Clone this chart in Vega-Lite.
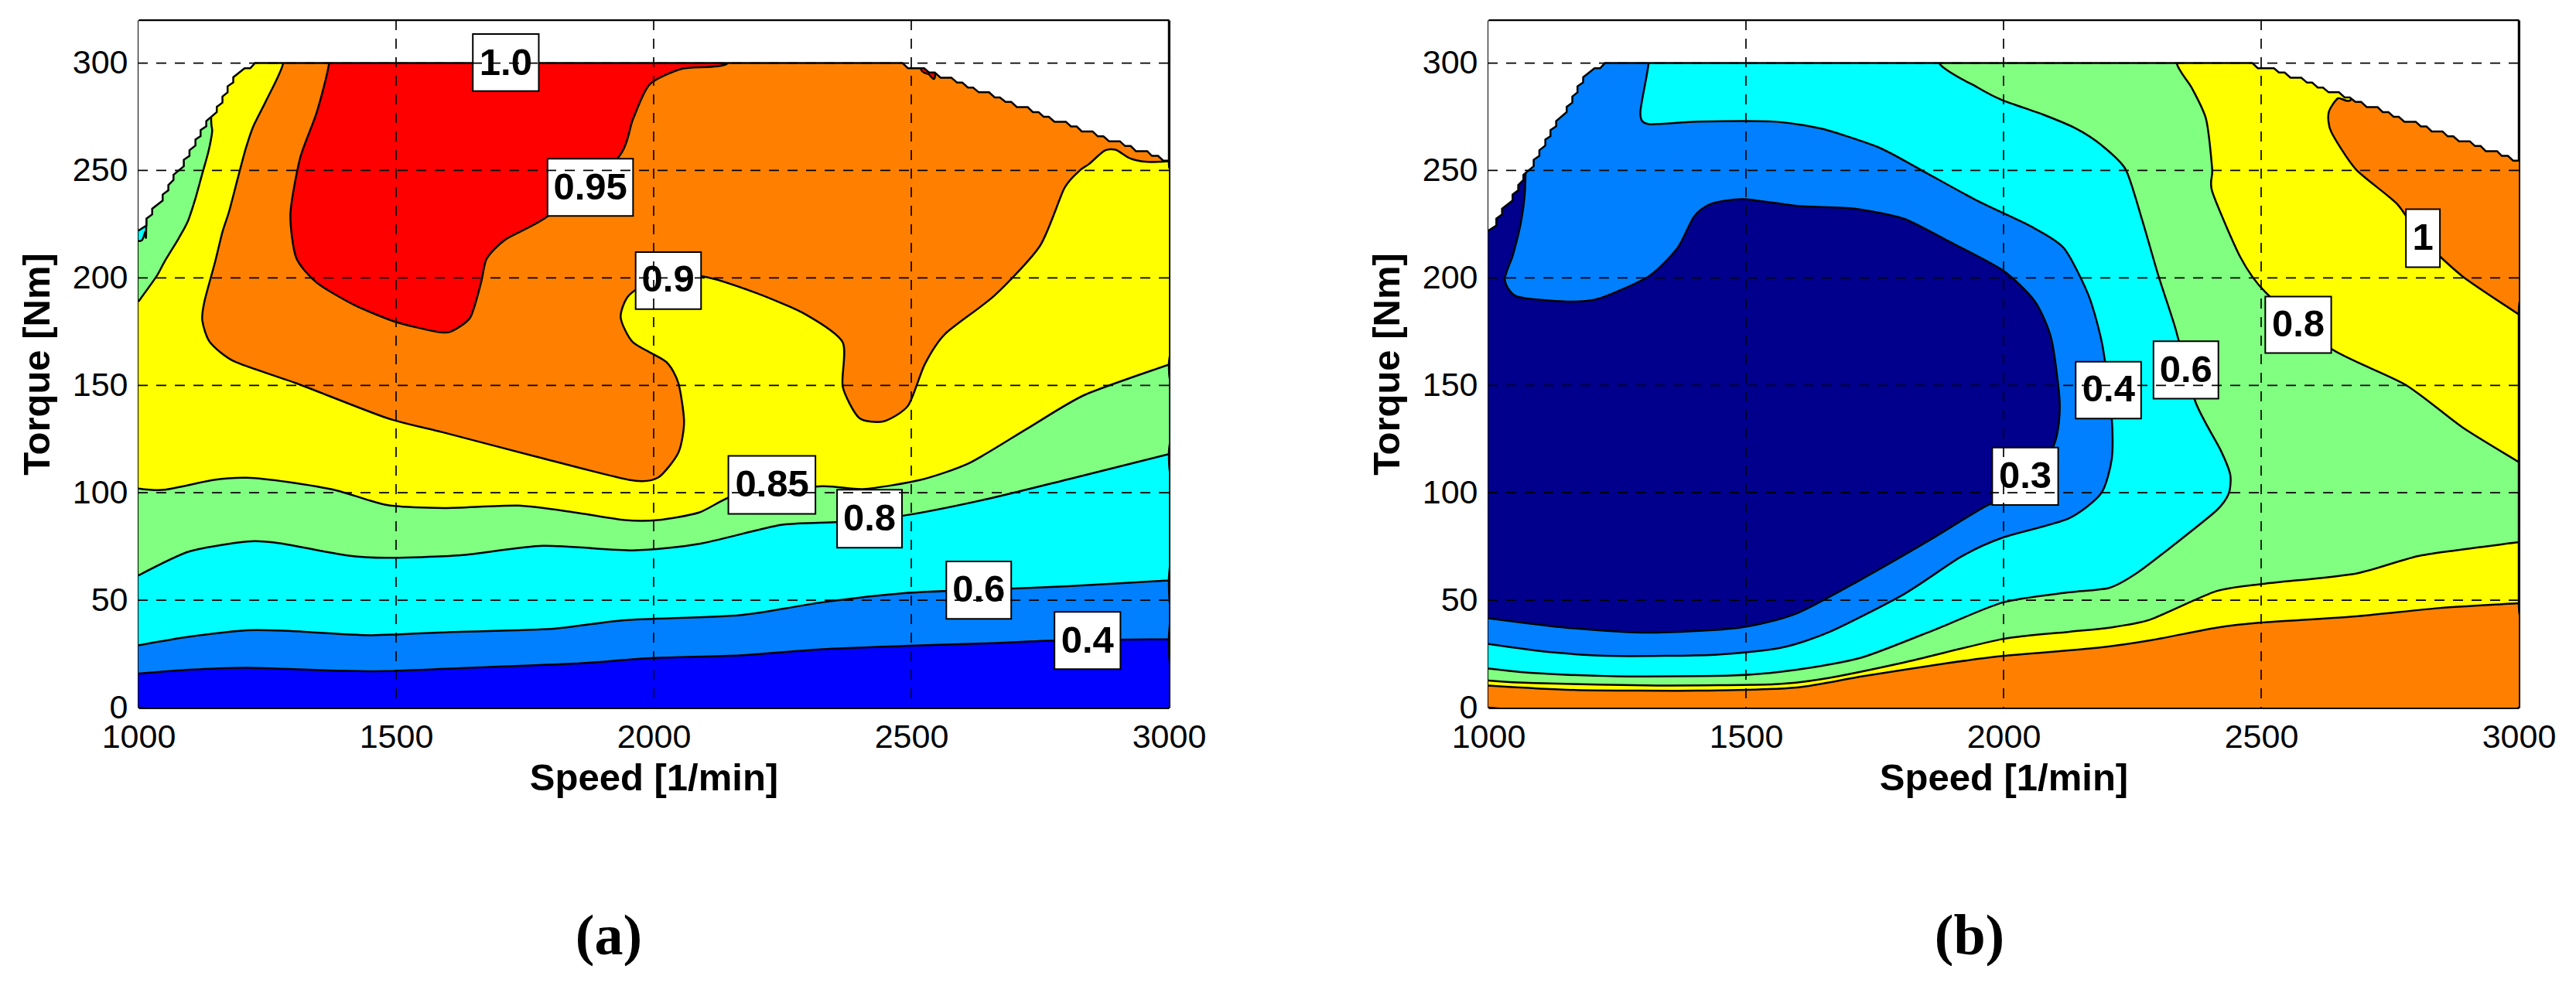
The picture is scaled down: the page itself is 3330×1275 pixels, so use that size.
{
  "$schema": "https://vega.github.io/schema/vega-lite/v6.json",
  "padding": {"left": 24, "top": 25, "right": 0, "bottom": 0},
  "spacing": 210,
  "resolve": {"scale": {"fill": "independent"}},
  "config": {
    "view": {"stroke": null},
    "font": "Liberation Sans",
    "axis": {"labelFont": "Liberation Sans", "labelFontSize": 43, "labelColor": "black", "labelFlush": false, "labelBound": false, "labelOverlap": false, "titleFont": "Liberation Sans", "titleFontSize": 49, "titleFontWeight": "bold", "titleColor": "black", "ticks": false, "grid": false, "domainColor": "black", "domainWidth": 3, "labelPadding": 14, "zindex": 1}
  },
  "datasets": {
    "regions": [
      {"panel":"a","region":"a0","band":"<0.4","speed":1000,"torque":0},{"panel":"a","region":"a0","band":"<0.4","speed":3000,"torque":0},{"panel":"a","region":"a0","band":"<0.4","speed":3000,"torque":320},{"panel":"a","region":"a0","band":"<0.4","speed":1000,"torque":320},

      {"panel":"a","region":"a1","band":"0.4-0.6","speed":1000,"torque":15.8},{"panel":"a","region":"a1","band":"0.4-0.6","speed":1099,"torque":17.6},{"panel":"a","region":"a1","band":"0.4-0.6","speed":1211,"torque":18.5},{"panel":"a","region":"a1","band":"0.4-0.6","speed":1370,"torque":17.3},{"panel":"a","region":"a1","band":"0.4-0.6","speed":1482,"torque":17},{"panel":"a","region":"a1","band":"0.4-0.6","speed":1689,"torque":19},{"panel":"a","region":"a1","band":"0.4-0.6","speed":1848,"torque":20.5},{"panel":"a","region":"a1","band":"0.4-0.6","speed":2000,"torque":23.1},{"panel":"a","region":"a1","band":"0.4-0.6","speed":2167,"torque":24.3},{"panel":"a","region":"a1","band":"0.4-0.6","speed":2327,"torque":27.2},{"panel":"a","region":"a1","band":"0.4-0.6","speed":2486,"torque":28.7},{"panel":"a","region":"a1","band":"0.4-0.6","speed":2646,"torque":29.9},{"panel":"a","region":"a1","band":"0.4-0.6","speed":2789,"torque":31.3},{"panel":"a","region":"a1","band":"0.4-0.6","speed":3000,"torque":31.9},{"panel":"a","region":"a1","band":"0.4-0.6","speed":3000,"torque":32.2},{"panel":"a","region":"a1","band":"0.4-0.6","speed":3000,"torque":320},{"panel":"a","region":"a1","band":"0.4-0.6","speed":1000,"torque":320},

      {"panel":"a","region":"a2","band":"0.6-0.8","speed":1000,"torque":29},{"panel":"a","region":"a2","band":"0.6-0.8","speed":1099,"torque":33},{"panel":"a","region":"a2","band":"0.6-0.8","speed":1211,"torque":36},{"panel":"a","region":"a2","band":"0.6-0.8","speed":1290,"torque":35.7},{"panel":"a","region":"a2","band":"0.6-0.8","speed":1450,"torque":33.7},{"panel":"a","region":"a2","band":"0.6-0.8","speed":1609,"torque":35.2},{"panel":"a","region":"a2","band":"0.6-0.8","speed":1801,"torque":36.6},{"panel":"a","region":"a2","band":"0.6-0.8","speed":1944,"torque":40.7},{"panel":"a","region":"a2","band":"0.6-0.8","speed":2167,"torque":43},{"panel":"a","region":"a2","band":"0.6-0.8","speed":2327,"torque":49},{"panel":"a","region":"a2","band":"0.6-0.8","speed":2486,"torque":53.3},{"panel":"a","region":"a2","band":"0.6-0.8","speed":2646,"torque":55},{"panel":"a","region":"a2","band":"0.6-0.8","speed":2805,"torque":56.5},{"panel":"a","region":"a2","band":"0.6-0.8","speed":3000,"torque":59.2},{"panel":"a","region":"a2","band":"0.6-0.8","speed":3000,"torque":59.5},{"panel":"a","region":"a2","band":"0.6-0.8","speed":3000,"torque":320},{"panel":"a","region":"a2","band":"0.6-0.8","speed":1000,"torque":320},

      {"panel":"a","region":"a3","band":"0.8-0.85","speed":1000,"torque":61.5},{"panel":"a","region":"a3","band":"0.8-0.85","speed":1099,"torque":72.7},{"panel":"a","region":"a3","band":"0.8-0.85","speed":1211,"torque":77.3},{"panel":"a","region":"a3","band":"0.8-0.85","speed":1274,"torque":76.5},{"panel":"a","region":"a3","band":"0.8-0.85","speed":1402,"torque":70.9},{"panel":"a","region":"a3","band":"0.8-0.85","speed":1482,"torque":69.7},{"panel":"a","region":"a3","band":"0.8-0.85","speed":1625,"torque":70.9},{"panel":"a","region":"a3","band":"0.8-0.85","speed":1785,"torque":75.3},{"panel":"a","region":"a3","band":"0.8-0.85","speed":1960,"torque":73.2},{"panel":"a","region":"a3","band":"0.8-0.85","speed":2088,"torque":76.2},{"panel":"a","region":"a3","band":"0.8-0.85","speed":2247,"torque":85},{"panel":"a","region":"a3","band":"0.8-0.85","speed":2359,"torque":86.4},{"panel":"a","region":"a3","band":"0.8-0.85","speed":2486,"torque":89.4},{"panel":"a","region":"a3","band":"0.8-0.85","speed":2646,"torque":97},{"panel":"a","region":"a3","band":"0.8-0.85","speed":2805,"torque":106.3},{"panel":"a","region":"a3","band":"0.8-0.85","speed":3000,"torque":118},{"panel":"a","region":"a3","band":"0.8-0.85","speed":3000,"torque":118.3},{"panel":"a","region":"a3","band":"0.8-0.85","speed":3000,"torque":320},{"panel":"a","region":"a3","band":"0.8-0.85","speed":1000,"torque":320},

      {"panel":"a","region":"a4","band":"0.85-0.9","speed":1000,"torque":102},{"panel":"a","region":"a4","band":"0.85-0.9","speed":1051,"torque":101.4},{"panel":"a","region":"a4","band":"0.85-0.9","speed":1147,"torque":106},{"panel":"a","region":"a4","band":"0.85-0.9","speed":1211,"torque":107},{"panel":"a","region":"a4","band":"0.85-0.9","speed":1290,"torque":105},{"panel":"a","region":"a4","band":"0.85-0.9","speed":1386,"torque":101},{"panel":"a","region":"a4","band":"0.85-0.9","speed":1482,"torque":94.3},{"panel":"a","region":"a4","band":"0.85-0.9","speed":1593,"torque":92.9},{"panel":"a","region":"a4","band":"0.85-0.9","speed":1737,"torque":94},{"panel":"a","region":"a4","band":"0.85-0.9","speed":1848,"torque":90.8},{"panel":"a","region":"a4","band":"0.85-0.9","speed":1944,"torque":87.3},{"panel":"a","region":"a4","band":"0.85-0.9","speed":2008,"torque":87.3},{"panel":"a","region":"a4","band":"0.85-0.9","speed":2088,"torque":90.8},{"panel":"a","region":"a4","band":"0.85-0.9","speed":2167,"torque":99.6},{"panel":"a","region":"a4","band":"0.85-0.9","speed":2327,"torque":103},{"panel":"a","region":"a4","band":"0.85-0.9","speed":2407,"torque":101.7},{"panel":"a","region":"a4","band":"0.85-0.9","speed":2518,"torque":106},{"panel":"a","region":"a4","band":"0.85-0.9","speed":2614,"torque":114},{"panel":"a","region":"a4","band":"0.85-0.9","speed":2726,"torque":130},{"panel":"a","region":"a4","band":"0.85-0.9","speed":2837,"torque":145.6},{"panel":"a","region":"a4","band":"0.85-0.9","speed":3000,"torque":159.7},{"panel":"a","region":"a4","band":"0.85-0.9","speed":3000,"torque":160},{"panel":"a","region":"a4","band":"0.85-0.9","speed":3000,"torque":320},{"panel":"a","region":"a4","band":"0.85-0.9","speed":1000,"torque":320},

      {"panel":"a","region":"a5","band":"0.9-0.95","speed":1281,"torque":320},{"panel":"a","region":"a5","band":"0.9-0.95","speed":1281,"torque":300},{"panel":"a","region":"a5","band":"0.9-0.95","speed":1248,"torque":282.6},{"panel":"a","region":"a5","band":"0.9-0.95","speed":1223,"torque":270.6},{"panel":"a","region":"a5","band":"0.9-0.95","speed":1208,"torque":260},{"panel":"a","region":"a5","band":"0.9-0.95","speed":1193,"torque":246.6},{"panel":"a","region":"a5","band":"0.9-0.95","speed":1176,"torque":231},{"panel":"a","region":"a5","band":"0.9-0.95","speed":1163,"torque":221.4},{"panel":"a","region":"a5","band":"0.9-0.95","speed":1149,"torque":207.7},{"panel":"a","region":"a5","band":"0.9-0.95","speed":1128,"torque":189},{"panel":"a","region":"a5","band":"0.9-0.95","speed":1124,"torque":180},{"panel":"a","region":"a5","band":"0.9-0.95","speed":1139,"torque":170},{"panel":"a","region":"a5","band":"0.9-0.95","speed":1187,"torque":161},{"panel":"a","region":"a5","band":"0.9-0.95","speed":1306,"torque":151},{"panel":"a","region":"a5","band":"0.9-0.95","speed":1482,"torque":134.8},{"panel":"a","region":"a5","band":"0.9-0.95","speed":1593,"torque":128},{"panel":"a","region":"a5","band":"0.9-0.95","speed":1769,"torque":117},{"panel":"a","region":"a5","band":"0.9-0.95","speed":1952,"torque":106},{"panel":"a","region":"a5","band":"0.9-0.95","speed":2008,"torque":107},{"panel":"a","region":"a5","band":"0.9-0.95","speed":2048,"torque":118.7},{"panel":"a","region":"a5","band":"0.9-0.95","speed":2059,"torque":133},{"panel":"a","region":"a5","band":"0.9-0.95","speed":2048,"torque":151},{"panel":"a","region":"a5","band":"0.9-0.95","speed":2024,"torque":161},{"panel":"a","region":"a5","band":"0.9-0.95","speed":1960,"torque":170},{"panel":"a","region":"a5","band":"0.9-0.95","speed":1936,"torque":181.6},{"panel":"a","region":"a5","band":"0.9-0.95","speed":1952,"torque":191.9},{"panel":"a","region":"a5","band":"0.9-0.95","speed":2008,"torque":200},{"panel":"a","region":"a5","band":"0.9-0.95","speed":2096,"torque":200.7},{"panel":"a","region":"a5","band":"0.9-0.95","speed":2199,"torque":193},{"panel":"a","region":"a5","band":"0.9-0.95","speed":2295,"torque":183},{"panel":"a","region":"a5","band":"0.9-0.95","speed":2367,"torque":170},{"panel":"a","region":"a5","band":"0.9-0.95","speed":2367,"torque":149.4},{"panel":"a","region":"a5","band":"0.9-0.95","speed":2399,"torque":134.8},{"panel":"a","region":"a5","band":"0.9-0.95","speed":2447,"torque":133.3},{"panel":"a","region":"a5","band":"0.9-0.95","speed":2494,"torque":140.6},{"panel":"a","region":"a5","band":"0.9-0.95","speed":2526,"torque":159.7},{"panel":"a","region":"a5","band":"0.9-0.95","speed":2566,"torque":174},{"panel":"a","region":"a5","band":"0.9-0.95","speed":2662,"torque":191.9},{"panel":"a","region":"a5","band":"0.9-0.95","speed":2750,"torque":215},{"panel":"a","region":"a5","band":"0.9-0.95","speed":2797,"torque":241.7},{"panel":"a","region":"a5","band":"0.9-0.95","speed":2827,"torque":250},{"panel":"a","region":"a5","band":"0.9-0.95","speed":2845,"torque":253},{"panel":"a","region":"a5","band":"0.9-0.95","speed":2875,"torque":259.2},{"panel":"a","region":"a5","band":"0.9-0.95","speed":2897,"torque":259.6},{"panel":"a","region":"a5","band":"0.9-0.95","speed":2925,"torque":255.6},{"panel":"a","region":"a5","band":"0.9-0.95","speed":2958,"torque":254},{"panel":"a","region":"a5","band":"0.9-0.95","speed":3000,"torque":254.3},{"panel":"a","region":"a5","band":"0.9-0.95","speed":3000,"torque":254.6},{"panel":"a","region":"a5","band":"0.9-0.95","speed":3000,"torque":320},

      {"panel":"a","region":"a6","band":">0.95","speed":1370,"torque":320},{"panel":"a","region":"a6","band":">0.95","speed":1370,"torque":300},{"panel":"a","region":"a6","band":">0.95","speed":1346,"torque":277},{"panel":"a","region":"a6","band":">0.95","speed":1314,"torque":256},{"panel":"a","region":"a6","band":">0.95","speed":1295,"torque":230},{"panel":"a","region":"a6","band":">0.95","speed":1306,"torque":209.5},{"panel":"a","region":"a6","band":">0.95","speed":1346,"torque":197.8},{"panel":"a","region":"a6","band":">0.95","speed":1418,"torque":187.5},{"panel":"a","region":"a6","band":">0.95","speed":1498,"torque":179.6},{"panel":"a","region":"a6","band":">0.95","speed":1577,"torque":175},{"panel":"a","region":"a6","band":">0.95","speed":1606,"torque":175},{"panel":"a","region":"a6","band":">0.95","speed":1644,"torque":181.6},{"panel":"a","region":"a6","band":">0.95","speed":1665,"torque":197.8},{"panel":"a","region":"a6","band":">0.95","speed":1676,"torque":209},{"panel":"a","region":"a6","band":">0.95","speed":1713,"torque":218},{"panel":"a","region":"a6","band":">0.95","speed":1793,"torque":228.5},{"panel":"a","region":"a6","band":">0.95","speed":1931,"torque":256},{"panel":"a","region":"a6","band":">0.95","speed":1960,"torque":274},{"panel":"a","region":"a6","band":">0.95","speed":1992,"torque":290},{"panel":"a","region":"a6","band":">0.95","speed":2056,"torque":297.4},{"panel":"a","region":"a6","band":">0.95","speed":2144,"torque":300},{"panel":"a","region":"a6","band":">0.95","speed":2144,"torque":320},

      {"panel":"a","region":"a7","band":">0.95","speed":2518,"torque":320},{"panel":"a","region":"a7","band":">0.95","speed":2518,"torque":297.8},{"panel":"a","region":"a7","band":">0.95","speed":2534,"torque":294.8},{"panel":"a","region":"a7","band":">0.95","speed":2546,"torque":293.8},{"panel":"a","region":"a7","band":">0.95","speed":2546,"torque":320},

      {"panel":"a","region":"a8","band":"0.8-0.85","speed":1000,"torque":189},{"panel":"a","region":"a8","band":"0.8-0.85","speed":1035,"torque":200.7},{"panel":"a","region":"a8","band":"0.8-0.85","speed":1050.6,"torque":207.6},{"panel":"a","region":"a8","band":"0.8-0.85","speed":1078,"torque":218.4},{"panel":"a","region":"a8","band":"0.8-0.85","speed":1095.6,"torque":226.2},{"panel":"a","region":"a8","band":"0.8-0.85","speed":1110.6,"torque":237},{"panel":"a","region":"a8","band":"0.8-0.85","speed":1123,"torque":247.8},{"panel":"a","region":"a8","band":"0.8-0.85","speed":1135.6,"torque":258.6},{"panel":"a","region":"a8","band":"0.8-0.85","speed":1143,"torque":268.2},{"panel":"a","region":"a8","band":"0.8-0.85","speed":1141,"torque":274.8},{"panel":"a","region":"a8","band":"0.8-0.85","speed":1141,"torque":320},{"panel":"a","region":"a8","band":"0.8-0.85","speed":1000,"torque":320},

      {"panel":"a","region":"a9","band":"0.6-0.8","speed":1000,"torque":217.2},{"panel":"a","region":"a9","band":"0.6-0.8","speed":1007,"torque":217.6},{"panel":"a","region":"a9","band":"0.6-0.8","speed":1013,"torque":221.4},{"panel":"a","region":"a9","band":"0.6-0.8","speed":1015,"torque":224.4},{"panel":"a","region":"a9","band":"0.6-0.8","speed":1015,"torque":320},{"panel":"a","region":"a9","band":"0.6-0.8","speed":1000,"torque":320},

      {"panel":"b","region":"b0","band":">1","speed":1000,"torque":0},{"panel":"b","region":"b0","band":">1","speed":3000,"torque":0},{"panel":"b","region":"b0","band":">1","speed":3000,"torque":320},{"panel":"b","region":"b0","band":">1","speed":1000,"torque":320},

      {"panel":"b","region":"b1","band":"0.8-1","speed":1000,"torque":10.3},{"panel":"b","region":"b1","band":"0.8-1","speed":1168,"torque":8.2},{"panel":"b","region":"b1","band":"0.8-1","speed":1407,"torque":7.9},{"panel":"b","region":"b1","band":"0.8-1","speed":1599,"torque":9.4},{"panel":"b","region":"b1","band":"0.8-1","speed":1726,"torque":14.6},{"panel":"b","region":"b1","band":"0.8-1","speed":1886,"torque":20.5},{"panel":"b","region":"b1","band":"0.8-1","speed":1998,"torque":24},{"panel":"b","region":"b1","band":"0.8-1","speed":2181,"torque":27.8},{"panel":"b","region":"b1","band":"0.8-1","speed":2285,"torque":31.3},{"panel":"b","region":"b1","band":"0.8-1","speed":2413,"torque":37.2},{"panel":"b","region":"b1","band":"0.8-1","speed":2500,"torque":39.6},{"panel":"b","region":"b1","band":"0.8-1","speed":2684,"torque":42.5},{"panel":"b","region":"b1","band":"0.8-1","speed":2844,"torque":46.3},{"panel":"b","region":"b1","band":"0.8-1","speed":3000,"torque":48.6},{"panel":"b","region":"b1","band":"0.8-1","speed":3000,"torque":49},{"panel":"b","region":"b1","band":"0.8-1","speed":3000,"torque":182.7},{"panel":"b","region":"b1","band":"0.8-1","speed":3000,"torque":183},{"panel":"b","region":"b1","band":"0.8-1","speed":2891,"torque":200.7},{"panel":"b","region":"b1","band":"0.8-1","speed":2812,"torque":218.3},{"panel":"b","region":"b1","band":"0.8-1","speed":2764,"torque":234.4},{"panel":"b","region":"b1","band":"0.8-1","speed":2684,"torque":250.5},{"panel":"b","region":"b1","band":"0.8-1","speed":2636,"torque":268},{"panel":"b","region":"b1","band":"0.8-1","speed":2631,"torque":276.9},{"panel":"b","region":"b1","band":"0.8-1","speed":2649,"torque":283.6},{"panel":"b","region":"b1","band":"0.8-1","speed":2676,"torque":284.2},{"panel":"b","region":"b1","band":"0.8-1","speed":2676,"torque":320},{"panel":"b","region":"b1","band":"0.8-1","speed":1000,"torque":320},

      {"panel":"b","region":"b2","band":"0.6-0.8","speed":1000,"torque":12.6},{"panel":"b","region":"b2","band":"0.6-0.8","speed":1088,"torque":11.4},{"panel":"b","region":"b2","band":"0.6-0.8","speed":1327,"torque":10.3},{"panel":"b","region":"b2","band":"0.6-0.8","speed":1551,"torque":10.8},{"panel":"b","region":"b2","band":"0.6-0.8","speed":1646,"torque":13.2},{"panel":"b","region":"b2","band":"0.6-0.8","speed":1806,"torque":21},{"panel":"b","region":"b2","band":"0.6-0.8","speed":1998,"torque":31.9},{"panel":"b","region":"b2","band":"0.6-0.8","speed":2125,"torque":35.2},{"panel":"b","region":"b2","band":"0.6-0.8","speed":2205,"torque":37.2},{"panel":"b","region":"b2","band":"0.6-0.8","speed":2285,"torque":41},{"panel":"b","region":"b2","band":"0.6-0.8","speed":2413,"torque":54.2},{"panel":"b","region":"b2","band":"0.6-0.8","speed":2508,"torque":57.7},{"panel":"b","region":"b2","band":"0.6-0.8","speed":2684,"torque":62.4},{"panel":"b","region":"b2","band":"0.6-0.8","speed":2812,"torque":70.9},{"panel":"b","region":"b2","band":"0.6-0.8","speed":3000,"torque":77},{"panel":"b","region":"b2","band":"0.6-0.8","speed":3000,"torque":77.3},{"panel":"b","region":"b2","band":"0.6-0.8","speed":3000,"torque":114},{"panel":"b","region":"b2","band":"0.6-0.8","speed":3000,"torque":114.3},{"panel":"b","region":"b2","band":"0.6-0.8","speed":2891,"torque":130.4},{"panel":"b","region":"b2","band":"0.6-0.8","speed":2780,"torque":150.3},{"panel":"b","region":"b2","band":"0.6-0.8","speed":2636,"torque":167},{"panel":"b","region":"b2","band":"0.6-0.8","speed":2508,"torque":193.4},{"panel":"b","region":"b2","band":"0.6-0.8","speed":2460,"torque":209.5},{"panel":"b","region":"b2","band":"0.6-0.8","speed":2405,"torque":240.2},{"panel":"b","region":"b2","band":"0.6-0.8","speed":2405,"torque":250.5},{"panel":"b","region":"b2","band":"0.6-0.8","speed":2393,"torque":274},{"panel":"b","region":"b2","band":"0.6-0.8","speed":2365,"torque":288.6},{"panel":"b","region":"b2","band":"0.6-0.8","speed":2336,"torque":300},{"panel":"b","region":"b2","band":"0.6-0.8","speed":2336,"torque":320},{"panel":"b","region":"b2","band":"0.6-0.8","speed":1000,"torque":320},

      {"panel":"b","region":"b3","band":"0.4-0.6","speed":1000,"torque":18.2},{"panel":"b","region":"b3","band":"0.4-0.6","speed":1088,"torque":16.1},{"panel":"b","region":"b3","band":"0.4-0.6","speed":1247,"torque":14.6},{"panel":"b","region":"b3","band":"0.4-0.6","speed":1471,"torque":14.9},{"panel":"b","region":"b3","band":"0.4-0.6","speed":1599,"torque":17.6},{"panel":"b","region":"b3","band":"0.4-0.6","speed":1726,"torque":23.4},{"panel":"b","region":"b3","band":"0.4-0.6","speed":1870,"torque":36.6},{"panel":"b","region":"b3","band":"0.4-0.6","speed":1998,"torque":48.9},{"panel":"b","region":"b3","band":"0.4-0.6","speed":2125,"torque":53.6},{"panel":"b","region":"b3","band":"0.4-0.6","speed":2205,"torque":55.7},{"panel":"b","region":"b3","band":"0.4-0.6","speed":2261,"torque":63},{"panel":"b","region":"b3","band":"0.4-0.6","speed":2333,"torque":76.2},{"panel":"b","region":"b3","band":"0.4-0.6","speed":2413,"torque":91.7},{"panel":"b","region":"b3","band":"0.4-0.6","speed":2437,"torque":99.6},{"panel":"b","region":"b3","band":"0.4-0.6","speed":2440,"torque":108.4},{"panel":"b","region":"b3","band":"0.4-0.6","speed":2421,"torque":120},{"panel":"b","region":"b3","band":"0.4-0.6","speed":2373,"torque":142},{"panel":"b","region":"b3","band":"0.4-0.6","speed":2333,"torque":177},{"panel":"b","region":"b3","band":"0.4-0.6","speed":2301,"torque":200.7},{"panel":"b","region":"b3","band":"0.4-0.6","speed":2269,"torque":227},{"panel":"b","region":"b3","band":"0.4-0.6","speed":2237,"torque":250.5},{"panel":"b","region":"b3","band":"0.4-0.6","speed":2189,"torque":262},{"panel":"b","region":"b3","band":"0.4-0.6","speed":2141,"torque":269.5},{"panel":"b","region":"b3","band":"0.4-0.6","speed":2077,"torque":276},{"panel":"b","region":"b3","band":"0.4-0.6","speed":1998,"torque":282.7},{"panel":"b","region":"b3","band":"0.4-0.6","speed":1950,"torque":288.6},{"panel":"b","region":"b3","band":"0.4-0.6","speed":1875,"torque":300},{"panel":"b","region":"b3","band":"0.4-0.6","speed":1875,"torque":320},{"panel":"b","region":"b3","band":"0.4-0.6","speed":1000,"torque":320},

      {"panel":"b","region":"b4","band":"0.3-0.4","speed":1000,"torque":29.6},{"panel":"b","region":"b4","band":"0.3-0.4","speed":1120,"torque":25.8},{"panel":"b","region":"b4","band":"0.3-0.4","speed":1247,"torque":24},{"panel":"b","region":"b4","band":"0.3-0.4","speed":1439,"torque":24.6},{"panel":"b","region":"b4","band":"0.3-0.4","speed":1567,"torque":27.8},{"panel":"b","region":"b4","band":"0.3-0.4","speed":1662,"torque":35.2},{"panel":"b","region":"b4","band":"0.3-0.4","speed":1806,"torque":52.7},{"panel":"b","region":"b4","band":"0.3-0.4","speed":1918,"torque":70.3},{"panel":"b","region":"b4","band":"0.3-0.4","speed":1998,"torque":79.1},{"panel":"b","region":"b4","band":"0.3-0.4","speed":2125,"torque":87.9},{"panel":"b","region":"b4","band":"0.3-0.4","speed":2189,"torque":99.6},{"panel":"b","region":"b4","band":"0.3-0.4","speed":2210,"torque":115.7},{"panel":"b","region":"b4","band":"0.3-0.4","speed":2210,"torque":134.8},{"panel":"b","region":"b4","band":"0.3-0.4","speed":2192,"torque":168.5},{"panel":"b","region":"b4","band":"0.3-0.4","speed":2165,"torque":191.9},{"panel":"b","region":"b4","band":"0.3-0.4","speed":2117,"torque":213.9},{"panel":"b","region":"b4","band":"0.3-0.4","speed":2053,"torque":224},{"panel":"b","region":"b4","band":"0.3-0.4","speed":1950,"torque":235.8},{"panel":"b","region":"b4","band":"0.3-0.4","speed":1838,"torque":250.5},{"panel":"b","region":"b4","band":"0.3-0.4","speed":1758,"torque":260.7},{"panel":"b","region":"b4","band":"0.3-0.4","speed":1646,"torque":269.5},{"panel":"b","region":"b4","band":"0.3-0.4","speed":1551,"torque":272.8},{"panel":"b","region":"b4","band":"0.3-0.4","speed":1407,"torque":272.8},{"panel":"b","region":"b4","band":"0.3-0.4","speed":1311,"torque":271.6},{"panel":"b","region":"b4","band":"0.3-0.4","speed":1295,"torque":276.9},{"panel":"b","region":"b4","band":"0.3-0.4","speed":1311,"torque":300},{"panel":"b","region":"b4","band":"0.3-0.4","speed":1311,"torque":320},{"panel":"b","region":"b4","band":"0.3-0.4","speed":1000,"torque":320},

      {"panel":"b","region":"b5","band":"<0.3","speed":1000,"torque":41.6},{"panel":"b","region":"b5","band":"<0.3","speed":1152,"torque":37.2},{"panel":"b","region":"b5","band":"<0.3","speed":1311,"torque":34.9},{"panel":"b","region":"b5","band":"<0.3","speed":1487,"torque":37.2},{"panel":"b","region":"b5","band":"<0.3","speed":1599,"torque":43.9},{"panel":"b","region":"b5","band":"<0.3","speed":1726,"torque":60},{"panel":"b","region":"b5","band":"<0.3","speed":1854,"torque":77.6},{"panel":"b","region":"b5","band":"<0.3","speed":1966,"torque":93.8},{"panel":"b","region":"b5","band":"<0.3","speed":2061,"torque":104},{"panel":"b","region":"b5","band":"<0.3","speed":2101,"torque":124.5},{"panel":"b","region":"b5","band":"<0.3","speed":2109,"torque":142},{"panel":"b","region":"b5","band":"<0.3","speed":2093,"torque":171.4},{"panel":"b","region":"b5","band":"<0.3","speed":2061,"torque":189},{"panel":"b","region":"b5","band":"<0.3","speed":1998,"torque":203.6},{"panel":"b","region":"b5","band":"<0.3","speed":1886,"torque":218},{"panel":"b","region":"b5","band":"<0.3","speed":1806,"torque":227.6},{"panel":"b","region":"b5","band":"<0.3","speed":1710,"torque":232.3},{"panel":"b","region":"b5","band":"<0.3","speed":1599,"torque":233.5},{"panel":"b","region":"b5","band":"<0.3","speed":1495,"torque":236.7},{"panel":"b","region":"b5","band":"<0.3","speed":1431,"torque":234.4},{"panel":"b","region":"b5","band":"<0.3","speed":1399,"torque":228.5},{"panel":"b","region":"b5","band":"<0.3","speed":1367,"torque":213.9},{"panel":"b","region":"b5","band":"<0.3","speed":1311,"torque":200.7},{"panel":"b","region":"b5","band":"<0.3","speed":1215,"torque":190.4},{"panel":"b","region":"b5","band":"<0.3","speed":1152,"torque":189},{"panel":"b","region":"b5","band":"<0.3","speed":1056,"torque":191.3},{"panel":"b","region":"b5","band":"<0.3","speed":1032,"torque":199.2},{"panel":"b","region":"b5","band":"<0.3","speed":1048,"torque":210.9},{"panel":"b","region":"b5","band":"<0.3","speed":1064,"torque":227},{"panel":"b","region":"b5","band":"<0.3","speed":1072,"torque":246},{"panel":"b","region":"b5","band":"<0.3","speed":1072,"torque":320},{"panel":"b","region":"b5","band":"<0.3","speed":1000,"torque":320}
    ],
    "limit": [
      {"speed":1000,"torque":222},{"speed":1015.5,"torque":224.4},{"speed":1015.5,"torque":227.6},{"speed":1026.6,"torque":229.6},{"speed":1026.6,"torque":232.2},{"speed":1047,"torque":236},{"speed":1047,"torque":238.8},{"speed":1058,"torque":240.8},{"speed":1058,"torque":243.2},{"speed":1068,"torque":245.6},{"speed":1068,"torque":248},{"speed":1088,"torque":252},{"speed":1088,"torque":255},{"speed":1099,"torque":256.8},{"speed":1099,"torque":259.4},{"speed":1110.6,"torque":261.6},{"speed":1110.6,"torque":264.4},{"speed":1120.6,"torque":266},{"speed":1120.6,"torque":268.8},{"speed":1131.6,"torque":270.6},{"speed":1131.6,"torque":273},{"speed":1152,"torque":277.2},{"speed":1152,"torque":279.6},{"speed":1163,"torque":281.6},{"speed":1163,"torque":284.4},{"speed":1173,"torque":286.4},{"speed":1173,"torque":289.2},{"speed":1184,"torque":291},{"speed":1184,"torque":293.4},{"speed":1206,"torque":297.6},{"speed":1217,"torque":297.6},{"speed":1226,"torque":300},{"speed":2483,"torque":300},{"speed":2493.5,"torque":297.6},{"speed":2525,"torque":297.6},{"speed":2534.5,"torque":295.6},{"speed":2545.6,"torque":295.6},{"speed":2557,"torque":293.2},{"speed":2578,"torque":293.2},{"speed":2589,"torque":290.9},{"speed":2599,"torque":290.9},{"speed":2610,"torque":288.6},{"speed":2620,"torque":288.6},{"speed":2631,"torque":286.4},{"speed":2651,"torque":286.4},{"speed":2662,"torque":284},{"speed":2672,"torque":284},{"speed":2683,"torque":281.9},{"speed":2694,"torque":281.9},{"speed":2705,"torque":279.5},{"speed":2726,"torque":279.5},{"speed":2736,"torque":277.2},{"speed":2747,"torque":277.2},{"speed":2757,"torque":275},{"speed":2767,"torque":275},{"speed":2778,"torque":272.7},{"speed":2800,"torque":272.7},{"speed":2810,"torque":270.5},{"speed":2821,"torque":270.5},{"speed":2831,"torque":268.2},{"speed":2852,"torque":268.2},{"speed":2862,"torque":265.9},{"speed":2873,"torque":265.9},{"speed":2884,"torque":263.6},{"speed":2905,"torque":263.6},{"speed":2915,"torque":261.4},{"speed":2926,"torque":261.4},{"speed":2936,"torque":259},{"speed":2958,"torque":259},{"speed":2967,"torque":256.8},{"speed":2979,"torque":256.8},{"speed":2989,"torque":254.6},{"speed":3000,"torque":254.6},{"speed":3000,"torque":320},{"speed":1000,"torque":320}
    ],
    "gridX": [{"speed":1500},{"speed":2000},{"speed":2500}],
    "gridY": [{"torque":50},{"torque":100},{"torque":150},{"torque":200},{"torque":250},{"torque":300}],
    "labels": [
      {"panel":"a","label":"1.0","speed":1713,"torque":300,"x1":1649,"x2":1777,"y1":287,"y2":313.5},
      {"panel":"a","label":"0.95","speed":1877,"torque":242,"x1":1794,"x2":1960,"y1":228.8,"y2":255.5},
      {"panel":"a","label":"0.9","speed":2028,"torque":199,"x1":1965,"x2":2092,"y1":185.5,"y2":212},
      {"panel":"a","label":"0.85","speed":2230,"torque":103.7,"x1":2145,"x2":2314,"y1":90.2,"y2":117.2},
      {"panel":"a","label":"0.8","speed":2419,"torque":88,"x1":2356,"x2":2482,"y1":74.4,"y2":101.4},
      {"panel":"a","label":"0.6","speed":2631,"torque":54.6,"x1":2568,"x2":2694,"y1":41.3,"y2":68},
      {"panel":"a","label":"0.4","speed":2842,"torque":31,"x1":2778,"x2":2906,"y1":17.9,"y2":44.5},
      {"panel":"b","label":"1","speed":2814,"torque":218.6,"x1":2781,"x2":2847,"y1":205,"y2":232},
      {"panel":"b","label":"0.8","speed":2572,"torque":178,"x1":2508,"x2":2636,"y1":165,"y2":191.3},
      {"panel":"b","label":"0.6","speed":2354,"torque":157,"x1":2291,"x2":2417,"y1":143.8,"y2":170.5},
      {"panel":"b","label":"0.4","speed":2204,"torque":148,"x1":2140,"x2":2267,"y1":134.5,"y2":161},
      {"panel":"b","label":"0.3","speed":2042,"torque":107.7,"x1":1978,"x2":2106,"y1":94.3,"y2":121}
    ]
  },
  "hconcat": [
    {
      "width": 1332,
      "height": 889,
      "title": {"text": "(a)", "orient": "bottom", "font": "Liberation Serif", "fontSize": 74, "fontWeight": "bold", "color": "black", "dx": -58, "offset": 145},
      "resolve": {"axis": {"x": "independent", "y": "independent"}},
      "layer": [
        {
          "data": {"name": "regions"},
          "transform": [{"filter": "datum.panel === 'a'"}],
          "mark": {"type": "line", "interpolate": "cardinal", "tension": 0.3, "stroke": "black", "strokeWidth": 2.5, "clip": true},
          "encoding": {
            "x": {"field": "speed", "type": "quantitative", "scale": {"domain": [1000, 3000], "nice": false}, "axis": {"values": [1000, 1500, 2000, 2500, 3000], "format": "d", "title": "Speed [1/min]", "labelPadding": 17, "titlePadding": 7}},
            "y": {"field": "torque", "type": "quantitative", "scale": {"domain": [0, 320], "nice": false}, "axis": {"values": [0, 50, 100, 150, 200, 250, 300], "format": "d", "title": "Torque [Nm]", "titlePadding": 20}},
            "order": {"value": null},
            "detail": {"field": "region"},
            "fill": {"field": "band", "type": "nominal", "legend": null, "scale": {"domain": ["<0.4", "0.4-0.6", "0.6-0.8", "0.8-0.85", "0.85-0.9", "0.9-0.95", ">0.95"], "range": ["#0000ff", "#0080ff", "#00ffff", "#80ff80", "#ffff00", "#ff8000", "#ff0000"]}}
          }
        },
        {
          "data": {"name": "limit"},
          "mark": {"type": "line", "stroke": "black", "strokeWidth": 2.5, "fill": "white", "clip": true},
          "encoding": {
            "x": {"field": "speed", "type": "quantitative", "axis": null},
            "y": {"field": "torque", "type": "quantitative", "axis": null},
            "order": {"value": null}
          }
        },
        {
          "data": {"name": "labels"},
          "transform": [{"filter": "datum.panel === 'a'"}],
          "mark": {"type": "rect", "fill": "white", "stroke": "black", "strokeWidth": 2},
          "encoding": {
            "x": {"field": "x1", "type": "quantitative", "axis": null},
            "x2": {"field": "x2"},
            "y": {"field": "y1", "type": "quantitative", "axis": null},
            "y2": {"field": "y2"}
          }
        },
        {
          "data": {"name": "gridX"},
          "mark": {"type": "rule", "stroke": "black", "strokeWidth": 1.7, "strokeDash": [13, 11]},
          "encoding": {
            "x": {"field": "speed", "type": "quantitative", "axis": {"orient": "top", "title": null, "labels": false}}
          }
        },
        {
          "data": {"name": "gridY"},
          "mark": {"type": "rule", "stroke": "black", "strokeWidth": 1.7, "strokeDash": [13, 11]},
          "encoding": {
            "y": {"field": "torque", "type": "quantitative", "axis": {"orient": "right", "title": null, "labels": false}}
          }
        },
        {
          "data": {"name": "labels"},
          "transform": [{"filter": "datum.panel === 'a'"}],
          "mark": {"type": "text", "font": "Liberation Sans", "fontWeight": "bold", "fontSize": 49, "color": "black"},
          "encoding": {
            "x": {"field": "speed", "type": "quantitative", "axis": null},
            "y": {"field": "torque", "type": "quantitative", "axis": null},
            "text": {"field": "label"}
          }
        }
      ]
    },
    {
      "width": 1332,
      "height": 889,
      "title": {"text": "(b)", "orient": "bottom", "font": "Liberation Serif", "fontSize": 74, "fontWeight": "bold", "color": "black", "dx": -44, "offset": 145},
      "resolve": {"axis": {"x": "independent", "y": "independent"}},
      "layer": [
        {
          "data": {"name": "regions"},
          "transform": [{"filter": "datum.panel === 'b'"}],
          "mark": {"type": "line", "interpolate": "cardinal", "tension": 0.3, "stroke": "black", "strokeWidth": 2.5, "clip": true},
          "encoding": {
            "x": {"field": "speed", "type": "quantitative", "scale": {"domain": [1000, 3000], "nice": false}, "axis": {"values": [1000, 1500, 2000, 2500, 3000], "format": "d", "title": "Speed [1/min]", "labelPadding": 17, "titlePadding": 7}},
            "y": {"field": "torque", "type": "quantitative", "scale": {"domain": [0, 320], "nice": false}, "axis": {"values": [0, 50, 100, 150, 200, 250, 300], "format": "d", "title": "Torque [Nm]", "titlePadding": 20}},
            "order": {"value": null},
            "detail": {"field": "region"},
            "fill": {"field": "band", "type": "nominal", "legend": null, "scale": {"domain": ["<0.3", "0.3-0.4", "0.4-0.6", "0.6-0.8", "0.8-1", ">1"], "range": ["#00008c", "#0080ff", "#00ffff", "#80ff80", "#ffff00", "#ff8000"]}}
          }
        },
        {
          "data": {"name": "limit"},
          "mark": {"type": "line", "stroke": "black", "strokeWidth": 2.5, "fill": "white", "clip": true},
          "encoding": {
            "x": {"field": "speed", "type": "quantitative", "axis": null},
            "y": {"field": "torque", "type": "quantitative", "axis": null},
            "order": {"value": null}
          }
        },
        {
          "data": {"name": "labels"},
          "transform": [{"filter": "datum.panel === 'b'"}],
          "mark": {"type": "rect", "fill": "white", "stroke": "black", "strokeWidth": 2},
          "encoding": {
            "x": {"field": "x1", "type": "quantitative", "axis": null},
            "x2": {"field": "x2"},
            "y": {"field": "y1", "type": "quantitative", "axis": null},
            "y2": {"field": "y2"}
          }
        },
        {
          "data": {"name": "gridX"},
          "mark": {"type": "rule", "stroke": "black", "strokeWidth": 1.7, "strokeDash": [13, 11]},
          "encoding": {
            "x": {"field": "speed", "type": "quantitative", "axis": {"orient": "top", "title": null, "labels": false}}
          }
        },
        {
          "data": {"name": "gridY"},
          "mark": {"type": "rule", "stroke": "black", "strokeWidth": 1.7, "strokeDash": [13, 11]},
          "encoding": {
            "y": {"field": "torque", "type": "quantitative", "axis": {"orient": "right", "title": null, "labels": false}}
          }
        },
        {
          "data": {"name": "labels"},
          "transform": [{"filter": "datum.panel === 'b'"}],
          "mark": {"type": "text", "font": "Liberation Sans", "fontWeight": "bold", "fontSize": 49, "color": "black"},
          "encoding": {
            "x": {"field": "speed", "type": "quantitative", "axis": null},
            "y": {"field": "torque", "type": "quantitative", "axis": null},
            "text": {"field": "label"}
          }
        }
      ]
    }
  ]
}
